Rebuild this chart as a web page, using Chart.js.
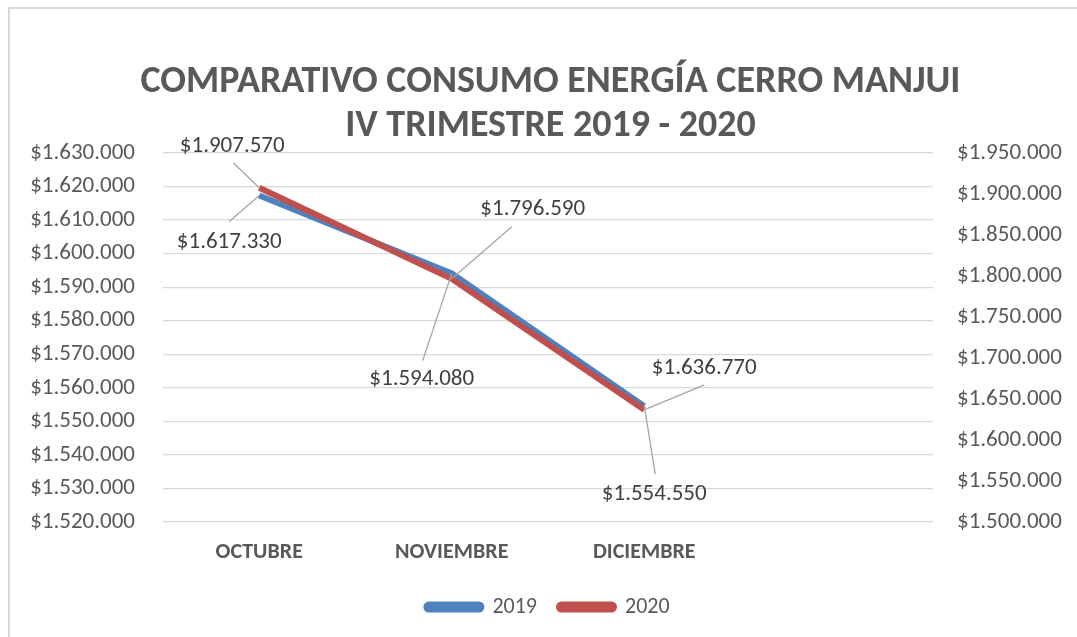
<!DOCTYPE html>
<html>
<head>
<meta charset="utf-8">
<script src="https://cdn.jsdelivr.net/npm/chart.js@4.4.1/dist/chart.umd.min.js"></script>
<style>
  html, body { margin: 0; padding: 0; background: #fff; }
  #wrap { width: 1077px; height: 637px; position: relative; }
</style>
</head>
<body>
<div id="wrap"><canvas id="energyChart"></canvas></div>
<script>
// Data
const months = ['OCTUBRE', 'NOVIEMBRE', 'DICIEMBRE', ''];
const consumo2019 = [1617330, 1594080, 1554550];
const consumo2020 = [1907570, 1796590, 1636770];
const leftTicks = [1520000, 1530000, 1540000, 1550000, 1560000, 1570000, 1580000, 1590000, 1600000, 1610000, 1620000, 1630000];
const rightTicks = [1500000, 1550000, 1600000, 1650000, 1700000, 1750000, 1800000, 1850000, 1900000, 1950000];

const FONT = "Carlito, 'Open Sans', sans-serif";

function money(v) {
    return '$' + String(v).replace(/\B(?=(\d{3})+(?!\d))/g, '.');
}

// where each value label sits relative to its point (dataset index -> point index)
const labelPlacement = [
    [{ dx: -30, dy: 47, ax: 0, ay: -21 }, { dx: -30, dy: 106, ax: 1, ay: -19 }, { dx: 10, dy: 88, ax: 1, ay: -20 }],
    [{ dx: -27, dy: -42, ax: 1, ay: 17 }, { dx: 81, dy: -70, ax: -21, ay: 18 }, { dx: 60, dy: -42, ax: 0, ay: 17 }]
];

const pointLabels = {
    id: 'pointLabels',
    afterDatasetsDraw(chart) {
        const ctx = chart.ctx;
        ctx.save();
        chart.data.datasets.forEach((ds, di) => {
            const meta = chart.getDatasetMeta(di);
            meta.data.forEach((pt, i) => {
                const p = labelPlacement[di][i];
                const lx = pt.x + p.dx;
                const ly = pt.y + p.dy;
                ctx.strokeStyle = '#a6a6a6';
                ctx.lineWidth = 1.3;
                ctx.beginPath();
                ctx.moveTo(pt.x, pt.y);
                ctx.lineTo(lx + p.ax, ly + p.ay);
                ctx.stroke();
                ctx.fillStyle = '#404040';
                ctx.font = '23px ' + FONT;
                ctx.textAlign = 'center';
                ctx.textBaseline = 'middle';
                ctx.fillText(money(ds.data[i]), lx, ly);
            });
        });
        ctx.restore();
    }
};

const frame = {
    id: 'frame',
    afterLayout(chart) {
        // title is centred a little right of the canvas middle
        if (chart.titleBlock) chart.titleBlock.left = 24;
    },
    beforeDraw(chart) {
        const ctx = chart.ctx;
        ctx.save();
        ctx.fillStyle = '#ffffff';
        ctx.fillRect(0, 0, chart.width, chart.height);
        ctx.fillStyle = '#d9d9d9';
        ctx.fillRect(8, 7, chart.width - 8, 2);
        ctx.fillRect(8, 7, 2, chart.height - 7);
        ctx.restore();
    }
};

const ctx = document.getElementById('energyChart').getContext('2d');
const energyChart = new Chart(ctx, {
    type: 'line',
    data: {
        labels: months,
        datasets: [{
            label: '2019',
            data: consumo2019,
            yAxisID: 'y',
            borderColor: '#4f81bd',
            backgroundColor: '#4f81bd',
            borderWidth: 6,
            pointRadius: 0,
            tension: 0,
            order: 2
        }, {
            label: '2020',
            data: consumo2020,
            yAxisID: 'y1',
            borderColor: '#c0504d',
            backgroundColor: '#c0504d',
            borderWidth: 6,
            pointRadius: 0,
            tension: 0,
            order: 1
        }]
    },
    options: {
        responsive: true,
        maintainAspectRatio: false,
        animation: false,
        layout: {
            padding: { top: 0, bottom: 9, left: 0, right: 0 }
        },
        plugins: {
            title: {
                display: true,
                text: ['COMPARATIVO CONSUMO ENERGÍA CERRO MANJUI', 'IV TRIMESTRE 2019 - 2020'],
                color: '#595959',
                font: { family: FONT, size: 38, weight: 'bold', lineHeight: 1.158 },
                padding: { top: 60, bottom: 5 }
            },
            legend: {
                position: 'bottom',
                fullSize: false,
                labels: {
                    color: '#595959',
                    font: { family: FONT, size: 22 },
                    boxWidth: 55,
                    boxHeight: 5,
                    useBorderRadius: true,
                    borderRadius: 2.5,
                    padding: 22,
                    sort: (a, b) => a.datasetIndex - b.datasetIndex
                }
            },
            tooltip: { enabled: false }
        },
        scales: {
            x: {
                offset: true,
                grid: { display: false, drawTicks: false },
                border: { display: false },
                ticks: {
                    color: '#595959',
                    font: { family: FONT, size: 22, weight: 'bold' },
                    padding: 17,
                    maxRotation: 0
                },
                afterFit(scale) { scale.height = 52; }
            },
            y: {
                position: 'left',
                min: 1520000,
                max: 1630000,
                afterBuildTicks(scale) { scale.ticks = leftTicks.map(v => ({ value: v })); },
                grid: { color: '#d9d9d9', lineWidth: 1.3, drawTicks: false },
                border: { display: false },
                ticks: {
                    color: '#595959',
                    font: { family: FONT, size: 23 },
                    padding: 28,
                    callback: value => money(value)
                },
                afterFit(scale) { scale.width = 163; }
            },
            y1: {
                position: 'right',
                min: 1500000,
                max: 1950000,
                afterBuildTicks(scale) { scale.ticks = rightTicks.map(v => ({ value: v })); },
                grid: { display: false, drawTicks: false },
                border: { display: false },
                ticks: {
                    color: '#595959',
                    font: { family: FONT, size: 23 },
                    padding: 24,
                    callback: value => money(value)
                },
                afterFit(scale) { scale.width = 144; }
            }
        }
    },
    plugins: [frame, pointLabels]
});
</script>
</body>
</html>
